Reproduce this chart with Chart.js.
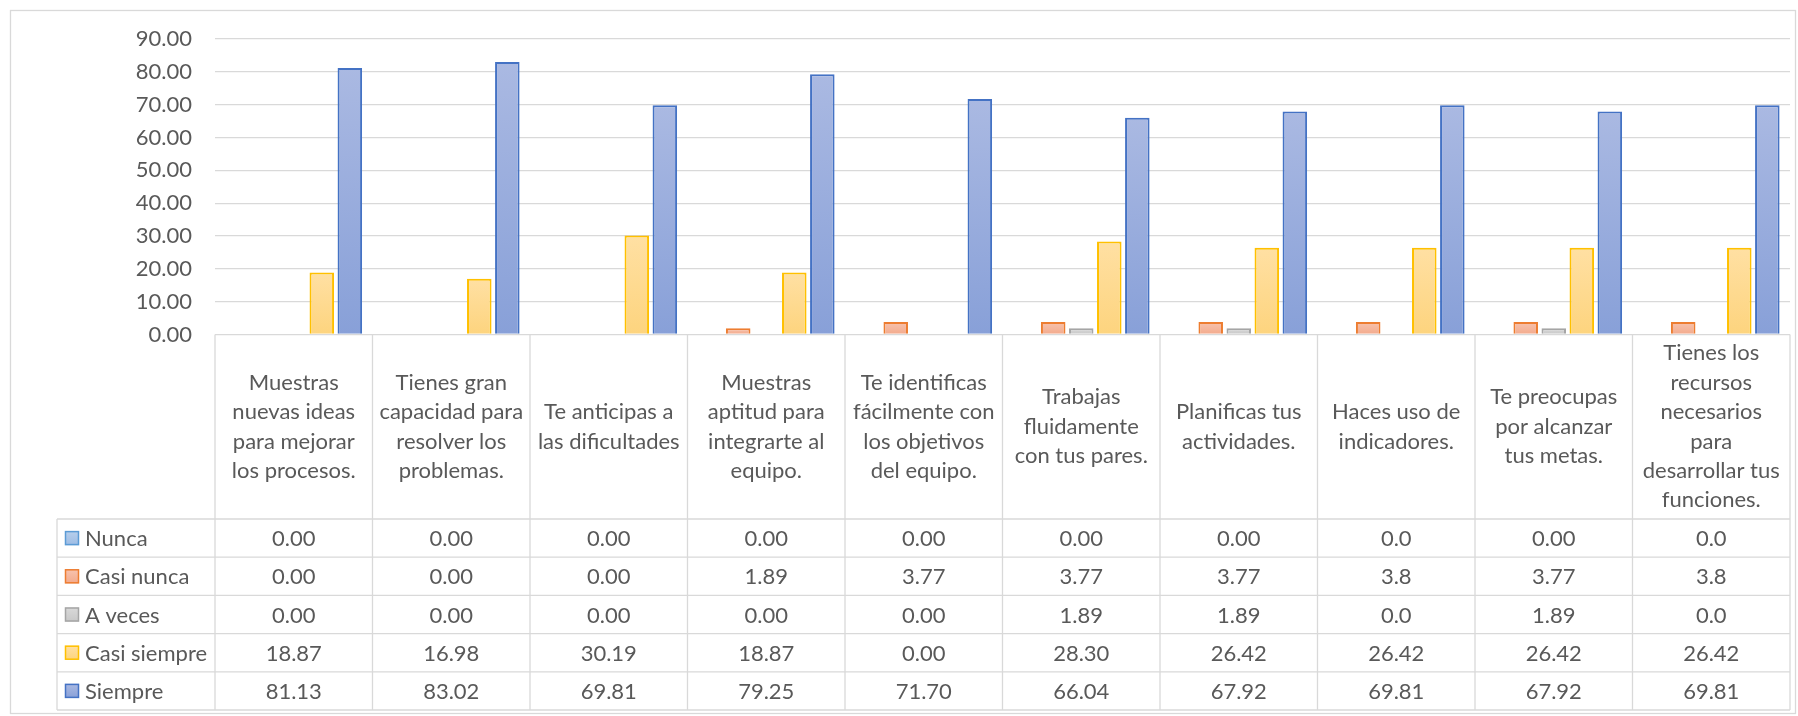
<!DOCTYPE html>
<html lang="es">
<head>
    <meta charset="UTF-8">
    <title>Distribución de respuestas por ítem</title>
    <script src="https://cdn.jsdelivr.net/npm/chart.js"></script>
    <style>
        html, body {
            margin: 0;
            padding: 0;
            background: #fff;
        }

        #chart {
            display: block;
        }
    </style>
</head>
<body>
<canvas id="chart" width="1798" height="716"></canvas>

<script>
    // Ítems del cuestionario (una línea por renglón de la tabla)
    const categories = [
        ['Muestras', 'nuevas ideas', 'para mejorar', 'los procesos.'],
        ['Tienes gran', 'capacidad para', 'resolver los', 'problemas.'],
        ['Te anticipas a', 'las dificultades'],
        ['Muestras', 'aptitud para', 'integrarte al', 'equipo.'],
        ['Te identificas', 'fácilmente con', 'los objetivos', 'del equipo.'],
        ['Trabajas', 'fluidamente', 'con tus pares.'],
        ['Planificas tus', 'actividades.'],
        ['Haces uso de', 'indicadores.'],
        ['Te preocupas', 'por alcanzar', 'tus metas.'],
        ['Tienes los', 'recursos', 'necesarios', 'para', 'desarrollar tus', 'funciones.']
    ];

    const seriesNames = ['Nunca', 'Casi nunca', 'A veces', 'Casi siempre', 'Siempre'];

    const nunca       = [0.00, 0.00, 0.00, 0.00, 0.00, 0.00, 0.00, 0.0, 0.00, 0.0];
    const casiNunca   = [0.00, 0.00, 0.00, 1.89, 3.77, 3.77, 3.77, 3.8, 3.77, 3.8];
    const aVeces      = [0.00, 0.00, 0.00, 0.00, 0.00, 1.89, 1.89, 0.0, 1.89, 0.0];
    const casiSiempre = [18.87, 16.98, 30.19, 18.87, 0.00, 28.30, 26.42, 26.42, 26.42, 26.42];
    const siempre     = [81.13, 83.02, 69.81, 79.25, 71.70, 66.04, 67.92, 69.81, 67.92, 69.81];

    // decimales con que se muestran Nunca / Casi nunca / A veces en cada columna
    const lowDecimals = [2, 2, 2, 2, 2, 2, 2, 1, 2, 1];

    const yMin = 0;
    const yMax = 90;
    const yStep = 10;

    // borde, color claro (arriba) y oscuro (abajo) de cada serie
    const palette = [
        { border: '#5B9BD5', top: '#B7CFEC', bottom: '#9DBCE4' },
        { border: '#ED7D31', top: '#F7C3AE', bottom: '#F3AA8C' },
        { border: '#A5A5A5', top: '#D9D9D9', bottom: '#C8C8C8' },
        { border: '#FFC000', top: '#FFE0A3', bottom: '#FDD47E' },
        { border: '#4472C4', top: '#AAB9E2', bottom: '#88A0D8' }
    ];

    const FONT = 'Lato, "Open Sans", sans-serif';
    const TEXT_COLOR = '#595959';
    const LINE_COLOR = '#D9D9D9';

    // geometría de la tabla bajo el gráfico
    const LABEL_ROW_H = 184.5;
    const ROW_H = 38.2;
    const LEGEND_LEFT = 57;

    function gradientFill(colors) {
        return (context) => {
            const chart = context.chart;
            if (context.type !== 'data' || !chart.chartArea) return colors.top;
            const y = chart.scales.y;
            const y0 = y.getPixelForValue(0);
            const y1 = y.getPixelForValue(context.raw);
            if (Math.abs(y0 - y1) < 1) return colors.top;
            const g = chart.ctx.createLinearGradient(0, y1, 0, y0);
            g.addColorStop(0, colors.top);
            g.addColorStop(1, colors.bottom);
            return g;
        };
    }

    function formatCell(seriesIndex, colIndex, value) {
        const digits = seriesIndex < 3 ? lowDecimals[colIndex] : 2;
        return value.toFixed(digits);
    }

    const seriesData = [nunca, casiNunca, aVeces, casiSiempre, siempre];

    const datasets = seriesNames.map((name, i) => ({
        label: name,
        data: seriesData[i],
        backgroundColor: gradientFill(palette[i]),
        borderColor: palette[i].border,
        borderWidth: (ctx) => (ctx.raw ? 2 : 0),
        borderSkipped: 'start',
        categoryPercentage: 0.89,
        barPercentage: 0.875
    }));

    // marco exterior del gráfico
    const frame = {
        id: 'frame',
        beforeDraw(chart) {
            const ctx = chart.ctx;
            ctx.save();
            ctx.fillStyle = '#fff';
            ctx.fillRect(0, 0, chart.width, chart.height);
            ctx.strokeStyle = LINE_COLOR;
            ctx.lineWidth = 1.3;
            ctx.strokeRect(10.5, 10.5, chart.width - 13, chart.height - 13);
            ctx.restore();
        }
    };

    // tabla de datos: rótulos de ítems, leyenda y valores
    const dataTable = {
        id: 'dataTable',
        afterDraw(chart) {
            const ctx = chart.ctx;
            const area = chart.chartArea;
            const xScale = chart.scales.x;
            const n = categories.length;
            const colW = (area.right - area.left) / n;
            const headTop = area.bottom;
            const rowsTop = headTop + LABEL_ROW_H;
            const bottom = rowsTop + ROW_H * seriesNames.length;

            ctx.save();
            ctx.strokeStyle = LINE_COLOR;
            ctx.lineWidth = 1.3;
            ctx.beginPath();
            for (let i = 0; i <= n; i++) {
                const x = area.left + i * colW;
                ctx.moveTo(x, headTop);
                ctx.lineTo(x, bottom);
            }
            ctx.moveTo(LEGEND_LEFT, rowsTop);
            ctx.lineTo(LEGEND_LEFT, bottom);
            for (let r = 0; r <= seriesNames.length; r++) {
                const y = rowsTop + r * ROW_H;
                ctx.moveTo(LEGEND_LEFT, y);
                ctx.lineTo(area.right, y);
            }
            ctx.stroke();

            ctx.fillStyle = TEXT_COLOR;
            ctx.font = '22px ' + FONT;
            ctx.textAlign = 'center';
            ctx.textBaseline = 'middle';

            const lineH = 29.4;
            const headMid = headTop + LABEL_ROW_H / 2;
            categories.forEach((lines, i) => {
                const cx = xScale.getPixelForValue(i);
                const y0 = headMid - (lines.length - 1) * lineH / 2;
                lines.forEach((line, k) => ctx.fillText(line, cx, y0 + k * lineH));
            });

            seriesNames.forEach((name, s) => {
                const cy = rowsTop + s * ROW_H + ROW_H / 2;
                // marcador de la serie
                const mg = ctx.createLinearGradient(0, cy - 7, 0, cy + 7);
                mg.addColorStop(0, palette[s].top);
                mg.addColorStop(1, palette[s].bottom);
                ctx.fillStyle = mg;
                ctx.fillRect(65, cy - 7, 14, 14);
                ctx.strokeStyle = palette[s].border;
                ctx.lineWidth = 1.5;
                ctx.strokeRect(65.5, cy - 6.5, 13, 13);

                ctx.fillStyle = TEXT_COLOR;
                ctx.textAlign = 'left';
                ctx.fillText(name, 85, cy + 1);

                ctx.textAlign = 'center';
                seriesData[s].forEach((v, i) => {
                    ctx.fillText(formatCell(s, i, v), xScale.getPixelForValue(i), cy + 1);
                });
            });
            ctx.restore();
        }
    };

    new Chart(document.getElementById('chart'), {
        type: 'bar',
        data: {
            labels: categories.map((c) => c.join(' ')),
            datasets: datasets
        },
        options: {
            responsive: false,
            animation: false,
            layout: {
                padding: { top: 39, right: 8, bottom: 381.5, left: 0 }
            },
            plugins: {
                legend: { display: false },
                tooltip: { enabled: false }
            },
            scales: {
                x: {
                    display: false
                },
                y: {
                    min: yMin,
                    max: yMax,
                    afterFit: (scale) => { scale.width = 215; },
                    ticks: {
                        stepSize: yStep,
                        padding: 23,
                        color: TEXT_COLOR,
                        font: { family: FONT, size: 22 },
                        callback: (v) => Number(v).toFixed(2)
                    },
                    grid: {
                        color: LINE_COLOR,
                        lineWidth: 1.3,
                        drawTicks: false
                    },
                    border: { display: false }
                }
            }
        },
        plugins: [frame, dataTable]
    });
</script>
</body>
</html>
